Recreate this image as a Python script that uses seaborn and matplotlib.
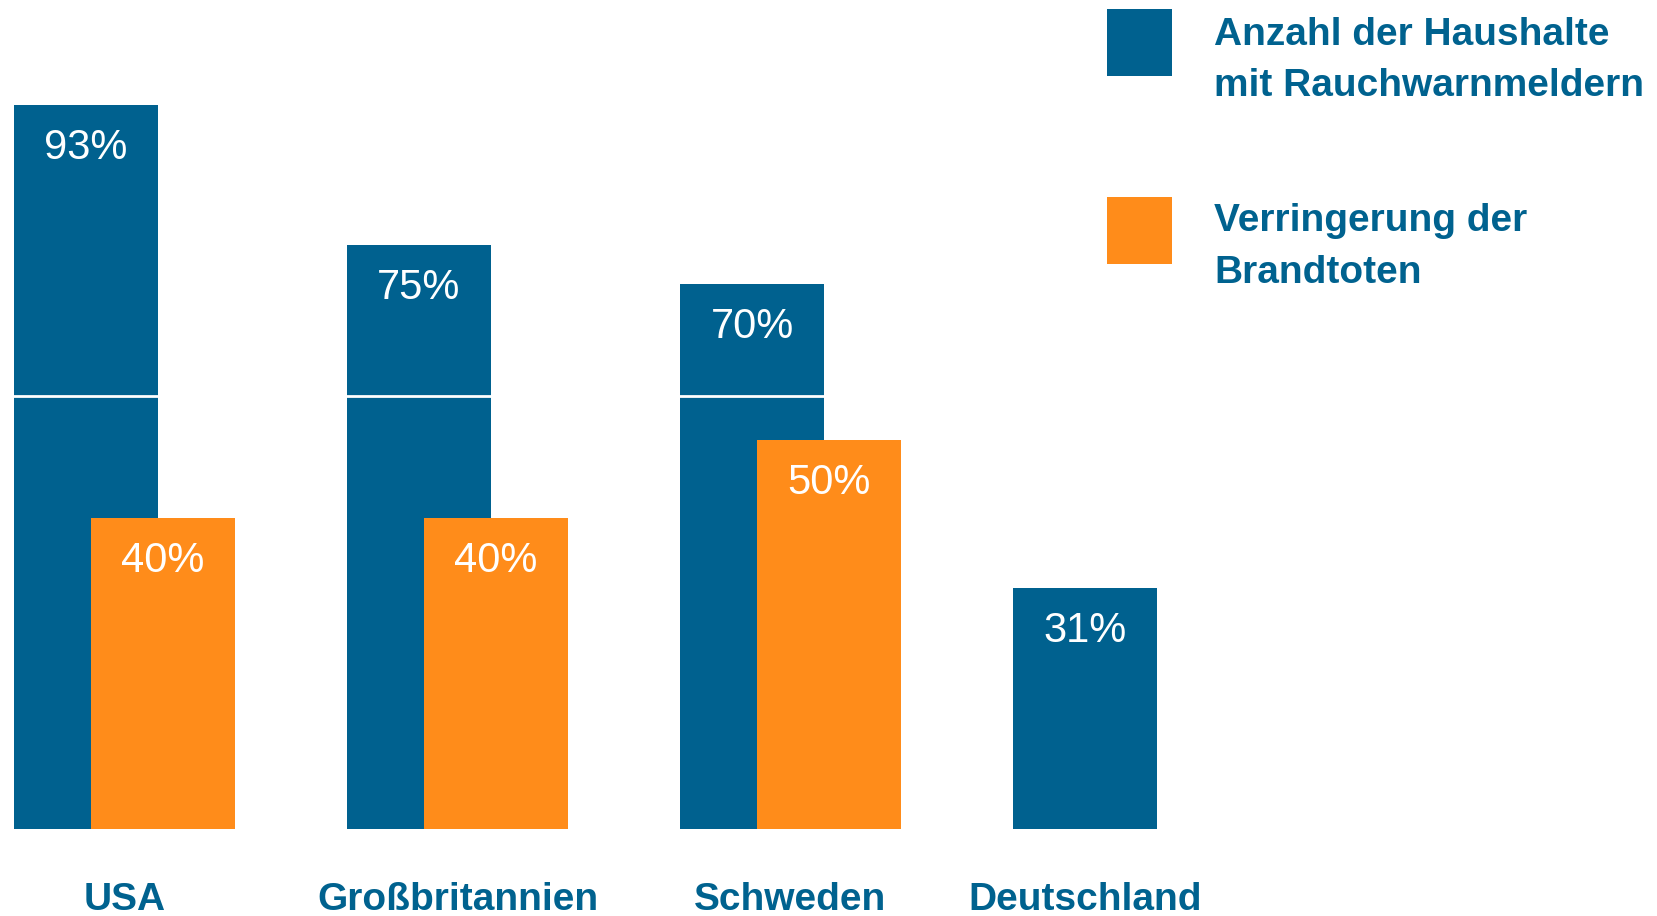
import numpy as np
import pandas as pd
import matplotlib
matplotlib.use("Agg")
import matplotlib.pyplot as plt
from matplotlib.patches import Rectangle
import seaborn as sns

# ---- data ----
countries = ["USA", "Großbritannien", "Schweden", "Deutschland"]
households = [93, 75, 70, 31]              # Anzahl der Haushalte mit Rauchwarnmeldern (%)
reduction_countries = ["USA", "Großbritannien", "Schweden"]
reduction = [40, 40, 50]                   # Verringerung der Brandtoten (%)
legend_labels = ["Anzahl der Haushalte\nmit Rauchwarnmeldern", "Verringerung der\nBrandtoten"]
ref_line = 55.6

BLUE = "#00618F"
ORANGE = "#FF8C1A"
TEXT_BLUE = "#00628F"

sns.set_theme(style="white")
plt.rcParams["font.family"] = ["Liberation Sans", "DejaVu Sans"]

W, H = 1657, 916
fig = plt.figure(figsize=(W / 100, H / 100), dpi=100)
base_px = 829          # baseline from top
unit_px = 333.0        # px per category
x0_px = 86             # centre of first blue bar
ypx = 7.785            # px per percent

ax = fig.add_axes([0, (H - base_px) / H, 1, base_px / H])

bar_w = 0.432
offset = 0.231

df_b = pd.DataFrame({"land": countries, "wert": households})
df_o = pd.DataFrame({"land": reduction_countries, "wert": reduction})

sns.barplot(data=df_b, x="land", y="wert", order=countries, color=BLUE,
            saturation=1, width=bar_w, errorbar=None, linewidth=0, ax=ax)
sns.barplot(data=df_o, x="land", y="wert", order=countries, color=ORANGE,
            saturation=1, width=bar_w, errorbar=None, linewidth=0, ax=ax)

blue_c = ax.containers[0]
orange_c = ax.containers[1]
for p in orange_c.patches:
    p.set_x(p.get_x() + offset)

ax.axhline(ref_line, color="white", lw=2, zorder=1.5)

label_kw = dict(color="white", fontsize=30, padding=-31)
for cont, vals in [(blue_c, households), (orange_c, reduction)]:
    texts = ax.bar_label(cont, labels=[f"{v}%" for v in vals], **label_kw)
    for t in texts:
        t.set_va("center")

ax.set_xlim(-x0_px / unit_px, (W - x0_px) / unit_px)
ax.set_ylim(0, base_px / ypx)

# tick positions: group centres
ticks = []
for i, c in enumerate(countries):
    ticks.append(i + offset / 2 if c in reduction_countries else i)
ax.set_xticks(ticks)
ax.set_xticklabels(countries, fontsize=28, fontweight="bold", color=TEXT_BLUE)
ax.tick_params(axis="x", length=0, pad=38)
ax.set_yticks([])
ax.set_xlabel("")
ax.set_ylabel("")
sns.despine(ax=ax, left=True, bottom=True)

# legend
sq_x, sq_w = 1107, 65
legend_colors = [BLUE, ORANGE]
sq_tops = [9, 197]
baselines = [(45, 96), (231, 283)]
for col, top, lab, bls in zip(legend_colors, sq_tops, legend_labels, baselines):
    fig.add_artist(Rectangle((sq_x / W, 1 - (top + 67) / H), sq_w / W, 67 / H,
                             transform=fig.transFigure, color=col, lw=0))
    for line, bl in zip(lab.split("\n"), bls):
        fig.text(1214 / W, 1 - bl / H, line, fontsize=28, fontweight="bold",
                 color=TEXT_BLUE, va="baseline", ha="left")

fig.savefig("out.png", dpi=100)
